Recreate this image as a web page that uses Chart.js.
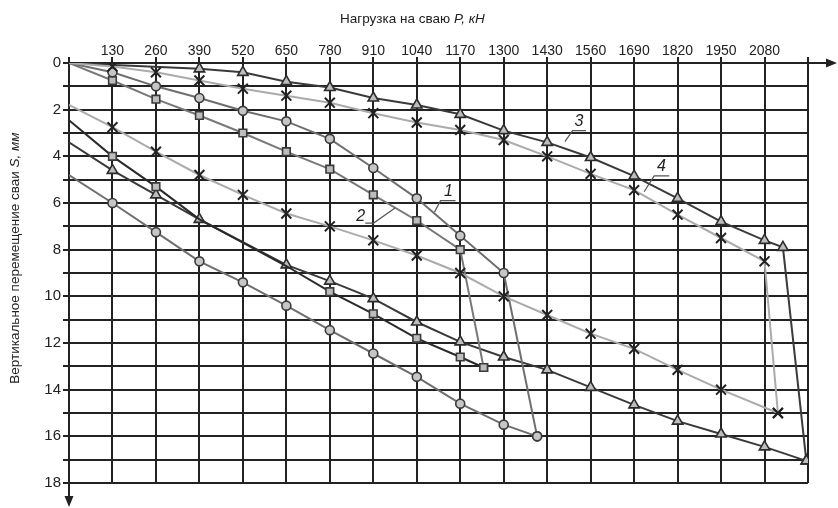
<!DOCTYPE html>
<html>
<head>
<meta charset="utf-8">
<script src="https://cdn.jsdelivr.net/npm/chart.js@4/dist/chart.umd.min.js"></script>
<style>
  html, body { margin: 0; padding: 0; background: #fff; }
  #wrap { width: 838px; height: 508px; }
</style>
</head>
<body>
<div id="wrap"><canvas id="chart" width="838" height="508"></canvas></div>
<script>
// ===== Axes =====
const loadTicks = [0, 130, 260, 390, 520, 650, 780, 910, 1040, 1170, 1300, 1430, 1560, 1690, 1820, 1950, 2080, 2210];
const loadLabels = [130, 260, 390, 520, 650, 780, 910, 1040, 1170, 1300, 1430, 1560, 1690, 1820, 1950, 2080];
const settleTicks = [0, 1, 2, 3, 4, 5, 6, 7, 8, 9, 10, 11, 12, 13, 14, 15, 16, 17, 18];
const settleLabels = [0, 2, 4, 6, 8, 10, 12, 14, 16, 18];

// ===== Сваи: нагружение + разгрузка, затем повторное нагружение =====
// свая 1 (кружки)
const p1LoadX = [0, 130, 260, 390, 520, 650, 780, 910, 1040, 1170, 1300, 1400];
const p1LoadS = [0, 0.4, 1.0, 1.5, 2.05, 2.5, 3.25, 4.5, 5.8, 7.4, 9.0, 16.0];
const p1ReX = [0, 130, 260, 390, 520, 650, 780, 910, 1040, 1170, 1300, 1400];
const p1ReS = [4.8, 6.0, 7.25, 8.5, 9.4, 10.4, 11.45, 12.45, 13.45, 14.6, 15.5, 16.0];

// свая 2 (квадраты)
const p2LoadX = [0, 130, 260, 390, 520, 650, 780, 910, 1040, 1170, 1240];
const p2LoadS = [0, 0.75, 1.55, 2.25, 3.0, 3.8, 4.55, 5.65, 6.75, 8.0, 13.05];
const p2ReX = [0, 130, 260, 390, 520, 650, 780, 910, 1040, 1170, 1240];
const p2ReS = [2.45, 4.0, 5.3, 6.7, 7.7, 8.7, 9.8, 10.75, 11.8, 12.6, 13.05];
const p2ReBare = [0, 390, 520, 650];

// свая 3 (треугольники)
const p3LoadX = [0, 390, 520, 650, 780, 910, 1040, 1170, 1300, 1430, 1560, 1690, 1820, 1950, 2080, 2135, 2205];
const p3LoadS = [0, 0.25, 0.4, 0.8, 1.05, 1.5, 1.8, 2.2, 2.9, 3.4, 4.05, 4.85, 5.8, 6.8, 7.6, 7.9, 17.05];
const p3ReX = [0, 130, 260, 390, 650, 780, 910, 1040, 1170, 1300, 1430, 1560, 1690, 1820, 1950, 2080, 2205];
const p3ReS = [3.4, 4.6, 5.65, 6.7, 8.65, 9.35, 10.1, 11.1, 11.95, 12.6, 13.15, 13.9, 14.65, 15.35, 15.9, 16.45, 17.05];

// свая 4 (крестики)
const p4LoadX = [0, 130, 260, 390, 520, 650, 780, 910, 1040, 1170, 1300, 1430, 1560, 1690, 1820, 1950, 2080, 2120];
const p4LoadS = [0, 0.15, 0.4, 0.75, 1.1, 1.4, 1.7, 2.15, 2.55, 2.87, 3.3, 4.0, 4.75, 5.45, 6.5, 7.5, 8.5, 15.0];
const p4ReX = [0, 130, 260, 390, 520, 650, 780, 910, 1040, 1170, 1300, 1430, 1560, 1690, 1820, 1950, 2120];
const p4ReS = [1.8, 2.75, 3.8, 4.8, 5.65, 6.45, 7.0, 7.6, 8.25, 9.0, 10.0, 10.8, 11.6, 12.25, 13.15, 14.0, 15.0];

// номера кривых с выносками (в единицах осей)
const calloutText = ['1', '2', '3', '4'];
const calloutAt = [[1135, 5.49], [872, 6.56], [1525, 2.52], [1772, 4.44]];
const calloutLeaders = [
  [[1156, 5.9], [1111, 5.9], [1093, 6.39]],
  [[886, 6.86], [911, 6.86], [976, 6.2]],
  [[1546, 2.9], [1506, 2.9], [1483, 3.37]],
  [[1795, 4.84], [1750, 4.84], [1720, 5.52]],
];

const FONT = '"Liberation Sans", Arial, sans-serif';
const INK = '#222';

// ===== Datasets =====
function branch(xs, ss, st, bare = [0]) {
  return {
    data: xs.map((x, i) => ({ x, y: ss[i] })),
    showLine: true,
    borderColor: st.line,
    borderWidth: 2,
    pointStyle: st.marker,
    pointBackgroundColor: st.fill,
    pointBorderColor: st.edge,
    pointBorderWidth: st.edgeW,
    pointRadius: (c) => (c.raw && bare.includes(c.raw.x) ? 0 : st.r),
    pointHoverRadius: 0,
  };
}

const CIRCLE = { line: '#6e6e6e', marker: 'circle', fill: '#c6c6c6', edge: '#3a3a3a', edgeW: 1.6, r: 4.5 };
const SQUARE = { line: '#787878', marker: 'rect', fill: '#bdbdbd', edge: '#3a3a3a', edgeW: 1.6, r: 5.4 };
const SQUARE_RE = { ...SQUARE, line: '#2a2a2a' };
const TRI = { line: '#3a3a3a', marker: 'triangle', fill: '#bdbdbd', edge: '#2c2c2c', edgeW: 1.6, r: 6 };
const CROSS = { line: '#ababab', marker: 'crossRot', fill: '#222', edge: '#222', edgeW: 2, r: 7 };

const datasets = [
  branch(p4LoadX, p4LoadS, CROSS),
  branch(p4ReX, p4ReS, CROSS),
  branch(p1LoadX, p1LoadS, CIRCLE),
  branch(p1ReX, p1ReS, CIRCLE),
  branch(p2LoadX, p2LoadS, SQUARE),
  branch(p2ReX, p2ReS, SQUARE_RE, p2ReBare),
  branch(p3LoadX, p3LoadS, TRI),
  branch(p3ReX, p3ReS, TRI),
];

// ===== Подписи осей, стрелки, выноски =====
function mixedText(ctx, parts, size) {
  let total = 0;
  const w = parts.map(([t, it]) => {
    ctx.font = `${it ? 'italic ' : ''}${size}px ${FONT}`;
    const m = ctx.measureText(t).width;
    total += m;
    return m;
  });
  let x = -total / 2;
  parts.forEach(([t, it], i) => {
    ctx.font = `${it ? 'italic ' : ''}${size}px ${FONT}`;
    ctx.fillText(t, x, 0);
    x += w[i];
  });
}

const decor = {
  id: 'decor',
  afterDraw(chart) {
    const { ctx, chartArea: a, scales: { x, y } } = chart;
    ctx.save();
    ctx.fillStyle = INK;
    ctx.strokeStyle = INK;
    ctx.textBaseline = 'middle';
    ctx.textAlign = 'left';

    // top title
    ctx.save();
    ctx.translate(x.getPixelForValue(1027), 19);
    mixedText(ctx, [['Нагрузка на сваю ', false], ['P, кН', true]], 13.5);
    ctx.restore();

    // left title
    ctx.save();
    ctx.translate(15, y.getPixelForValue(8.36));
    ctx.rotate(-Math.PI / 2);
    mixedText(ctx, [['Вертикальное перемещение сваи ', false], ['S, мм', true]], 13.5);
    ctx.restore();

    // arrows
    ctx.lineWidth = 2;
    ctx.beginPath();
    ctx.moveTo(a.right, a.top);
    ctx.lineTo(a.right + 20, a.top);
    ctx.moveTo(a.left, a.bottom);
    ctx.lineTo(a.left, a.bottom + 15);
    ctx.stroke();
    ctx.beginPath();
    ctx.moveTo(a.right + 29, a.top);
    ctx.lineTo(a.right + 18, a.top - 4.5);
    ctx.lineTo(a.right + 18, a.top + 4.5);
    ctx.closePath();
    ctx.moveTo(a.left, a.bottom + 24);
    ctx.lineTo(a.left - 4.5, a.bottom + 13);
    ctx.lineTo(a.left + 4.5, a.bottom + 13);
    ctx.closePath();
    ctx.fill();

    // callouts
    ctx.strokeStyle = '#555';
    ctx.lineWidth = 1.2;
    calloutLeaders.forEach((pts) => {
      ctx.beginPath();
      pts.forEach(([px, ps], i) => {
        const X = x.getPixelForValue(px), Y = y.getPixelForValue(ps);
        i ? ctx.lineTo(X, Y) : ctx.moveTo(X, Y);
      });
      ctx.stroke();
    });
    ctx.textAlign = 'center';
    ctx.font = `italic 16px ${FONT}`;
    calloutText.forEach((t, i) => {
      ctx.fillText(t, x.getPixelForValue(calloutAt[i][0]), y.getPixelForValue(calloutAt[i][1]));
    });
    ctx.restore();
  },
};

// ===== Chart =====
const ctx = document.getElementById('chart').getContext('2d');
new Chart(ctx, {
  type: 'scatter',
  data: { datasets },
  options: {
    responsive: false,
    animation: false,
    events: [],
    layout: { padding: { top: 0, left: 0, right: 30, bottom: 25 } },
    plugins: { legend: { display: false }, tooltip: { enabled: false } },
    scales: {
      x: {
        type: 'linear',
        position: 'top',
        min: 0,
        max: 2210,
        afterBuildTicks: (s) => { s.ticks = loadTicks.map((v) => ({ value: v })); },
        afterFit: (s) => { s.height = 63; },
        ticks: {
          autoSkip: false,
          maxRotation: 0,
          padding: -3,
          color: INK,
          font: { family: FONT, size: 14 },
          callback: (v) => (loadLabels.includes(v) ? String(v) : ''),
        },
        grid: { color: INK, lineWidth: 2, tickLength: 6, tickColor: INK },
        border: { color: INK, width: 2 },
      },
      y: {
        type: 'linear',
        reverse: true,
        min: 0,
        max: 18,
        afterBuildTicks: (s) => { s.ticks = settleTicks.map((v) => ({ value: v })); },
        afterFit: (s) => { s.width = 69; },
        ticks: {
          autoSkip: false,
          padding: 2,
          color: INK,
          font: { family: FONT, size: 15 },
          callback: (v) => (settleLabels.includes(v) ? String(v) : ''),
        },
        grid: { color: INK, lineWidth: 2, tickLength: 6, tickColor: INK },
        border: { color: INK, width: 2 },
      },
    },
  },
  plugins: [decor],
});
</script>
</body>
</html>
